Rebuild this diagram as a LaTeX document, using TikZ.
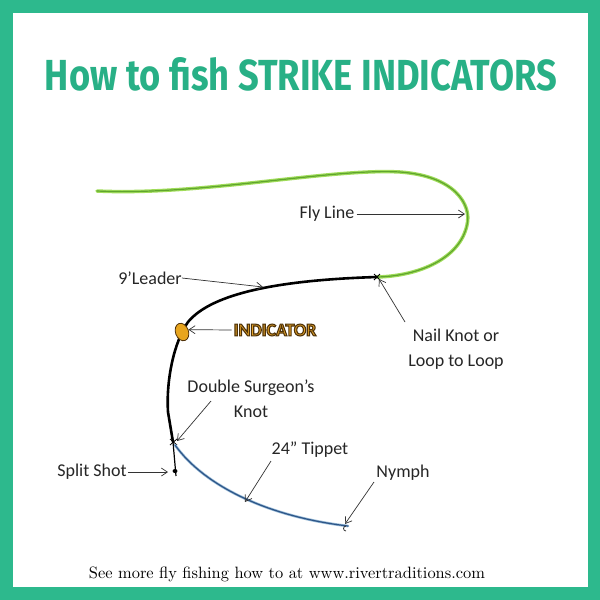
\documentclass[tikz,border=0pt]{standalone}
\usepackage{fontspec}
\setmainfont{Carlito}
\newfontfamily\titlefont{Fira Sans}
\newfontfamily\footfont{Latin Modern Roman}
\usetikzlibrary{arrows.meta,shapes.geometric}
\definecolor{teal}{RGB}{45,185,141}
\definecolor{titleteal}{RGB}{40,176,134}
\definecolor{flygreen}{RGB}{160,220,90}
\definecolor{flydark}{RGB}{95,165,45}
\definecolor{tipblue}{RGB}{45,85,135}
\definecolor{tiplight}{RGB}{150,185,215}
\definecolor{indfill}{RGB}{232,165,30}
\definecolor{inddark}{RGB}{80,50,10}
\definecolor{indtext}{RGB}{225,160,40}
\newcommand\outl[1]{{\color{indtext}\special{pdf:code 0.31 0.2 0.04 RG 2 Tr 1.1 w}#1\special{pdf:code 0 Tr}}}
\begin{document}
\begin{tikzpicture}[x=1pt,y=-1pt,
  lbl/.style={font=\fontsize{18}{25}\selectfont, inner sep=0pt, text=black!85},
  ptr/.style={-{Straight Barb[length=6pt,width=8pt]}, line width=0.7pt, black!80}]
\useasboundingbox (0,0) rectangle (600,600);
% border
\fill[teal] (0,0) rectangle (600,600);
\fill[white] (13,13) rectangle (588,587);
% title
\node[text=titleteal, inner sep=0pt] (title) at (301,74)
  {\resizebox{512pt}{33pt}{\titlefont\bfseries How to fish STRIKE INDICATORS}};
% fly line
\draw[flygreen, line width=3.5pt, line cap=round]
  (97,191) .. controls (200,196) and (330,168) .. (400,172)
  .. controls (455,176) and (472,205) .. (467,225)
  .. controls (460,258) and (420,276) .. (377,277);
\draw[flydark, line width=1.2pt, line cap=round]
  (97,191) .. controls (200,196) and (330,168) .. (400,172)
  .. controls (455,176) and (472,205) .. (467,225)
  .. controls (460,258) and (420,276) .. (377,277);
% leader
\draw[black, line width=2.6pt, line cap=round]
  (377,277) .. controls (280,280) and (212,293) .. (188,322)
  .. controls (174,342) and (166,380) .. (168,412) -- (173,442);
\draw[black, line width=1.2pt] (173,442) -- (176,476);
\fill[black] (175,471) ellipse (2.5pt and 2pt);
% knots
\draw[black, line width=0.8pt] (374,274) -- (380,280) (374,280) -- (380,274);
\draw[black, line width=0.8pt] (170,439) -- (177,445) (170,445) -- (177,439);
% tippet
\draw[tiplight, line width=2.6pt, line cap=round]
  (175,445) .. controls (205,487) and (270,517) .. (348,526);
\draw[tipblue, line width=1.2pt, line cap=round]
  (175,445) .. controls (205,487) and (270,517) .. (348,526);
\draw[black!80, line width=0.8pt] (346,526) arc (-90:90:-2.5pt);
% indicator
\node[draw=inddark, fill=indfill, ellipse, minimum width=13pt, minimum height=18pt,
  inner sep=0pt, rotate=20, line width=0.8pt] (ind) at (182,332) {};
% labels
\node[lbl] (fly) at (327,214) {Fly Line};
\coordinate (flytip) at (465,214);
\draw[ptr] (fly.east) ++(2,0) -- (flytip);

\node[lbl] (leader) at (150,278) {9’Leader};
\coordinate (leadtip) at (263,287);
\draw[ptr] (leader.east) -- (leadtip);

\node[inner sep=0pt, font=\fontsize{18}{20}\selectfont\bfseries] (indlbl) at (275,330) {\outl{INDICATOR}};
\draw[ptr] (indlbl.west) ++(-2,0) -- (ind.east);

\node[lbl, align=center] (nail) at (456,349) {Nail Knot or\\Loop to Loop};
\coordinate (nailtip) at (379,279);
\coordinate (nailstart) at (405,322);
\draw[ptr] (nailstart) -- (nailtip);

\node[lbl, align=center] (dsk) at (251,399) {Double Surgeon’s\\Knot};
\coordinate (dsktip) at (177,441);
\coordinate (dskstart) at (211,401);
\draw[ptr] (dskstart) -- (dsktip);

\node[lbl] (tip) at (310,450) {24” Tippet};
\coordinate (tiptip) at (245,502);
\coordinate (tipstart) at (271,461);
\draw[ptr] (tipstart) -- (tiptip);

\node[lbl] (nymph) at (403,473) {Nymph};
\coordinate (nymtip) at (345,524);
\coordinate (nymstart) at (374,482);
\draw[ptr] (nymstart) -- (nymtip);

\node[lbl] (split) at (92,472) {Split Shot};
\coordinate (splittip) at (168,472);
\draw[ptr] (split.east) ++(1,0) -- (splittip);

% footer
\node[inner sep=0pt] (footer) at (287,574)
  {\resizebox{396pt}{!}{\footfont See more fly fishing how to at www.rivertraditions.com}};
\end{tikzpicture}
\end{document}
